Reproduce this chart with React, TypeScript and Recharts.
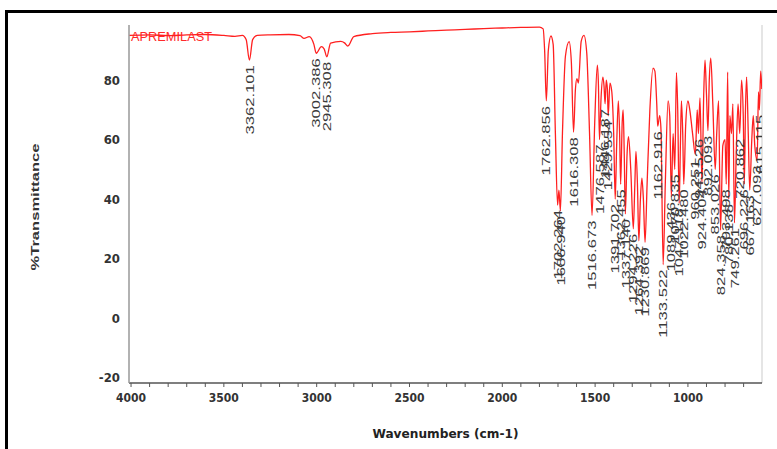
import { ComposedChart, Line, Scatter, XAxis, YAxis, ReferenceLine } from "recharts";

// IR spectrum
const wavenumbers = [
  4010, 3900, 3800, 3700, 3600, 3500, 3440, 3400, 3380, 3362.101, 3345, 3320, 3250, 3150, 3090, 3068, 3040, 3015,
  3002.386, 2975, 2960, 2945.308, 2925, 2870, 2850, 2832, 2800, 2700, 2600, 2500, 2400, 2300, 2200, 2100, 2000,
  1900, 1800, 1780, 1772, 1762.856, 1752, 1738, 1726, 1714, 1702.264, 1695, 1686.94, 1676, 1660, 1640, 1628,
  1616.308, 1606, 1598, 1590, 1575, 1560, 1545, 1530, 1516.673, 1502, 1488, 1482, 1476.587, 1468, 1458, 1452,
  1446.187, 1440, 1434, 1429.554, 1420, 1410, 1400, 1391.702, 1384, 1375, 1368, 1362.455, 1354, 1349, 1343,
  1337.14, 1328, 1320, 1308, 1294.226, 1286, 1280, 1272, 1264.392, 1256, 1248, 1240, 1230.869, 1220, 1205, 1188,
  1178, 1168, 1162.916, 1152, 1145, 1133.522, 1122, 1107, 1098, 1089.436, 1080, 1070.835, 1062, 1055, 1047.118,
  1040, 1035, 1028, 1022.48, 1012, 1000, 990, 975, 960.251, 950, 943.526, 935, 924.404, 915, 908, 900, 892.093,
  885, 877, 866, 853.026, 845, 835, 824.358, 812, 800, 793.498, 786, 780.138, 774, 765, 758, 749.261, 740, 730,
  720.862, 711, 702, 696.226, 690, 684, 675, 667.163, 656, 648, 640, 627.093, 620, 615.115, 608, 602,
];

const transmittance = [
  95.0, 95.2, 94.9, 95.2, 95.3, 95.0, 94.7, 95.0, 93.6, 86.7, 93.6, 95.0, 95.2, 95.3, 94.9, 94.0, 94.6, 92.0,
  89.0, 91.2, 90.5, 87.8, 92.4, 93.0, 92.5, 91.4, 94.6, 95.6, 96.0, 96.2, 96.5, 96.8, 97.0, 97.3, 97.5,
  97.7, 97.8, 97.2, 90, 73, 90, 94.8, 92, 62, 38, 43, 36, 62, 88, 92.9, 86,
  62.5, 77, 80.5, 79, 93, 95, 89, 62, 34.5, 66, 85, 78, 60, 74, 81, 78,
  72, 80, 77, 68, 79, 76, 62, 40, 58, 73, 62, 45, 66, 70, 55,
  35, 55, 61, 50, 30, 45, 56, 45, 26, 40, 47, 40, 25.5, 45, 70, 84,
  83, 72, 64.5, 68, 63, 18, 45, 73, 68, 40.7, 62, 50, 82.5, 70, 38.6,
  60, 73, 62, 45, 65, 73, 70, 62, 55, 70, 62, 74, 45, 75, 86.7, 75, 63,
  80, 87.4, 72, 50, 62, 73, 29.6, 58, 60, 45, 82.7, 40, 68, 62, 72, 32, 55, 72,
  62, 80, 68, 45, 70, 81, 62, 43, 60, 68, 58, 53, 76, 70, 83, 77,
];

const peakLabels = [
  "3362.101", "3002.386", "2945.308", "1762.856", "1702.264", "1686.940", "1616.308", "1516.673", "1476.587",
  "1446.187", "1429.554", "1391.702", "1362.455", "1337.140", "1294.226", "1264.392", "1230.869", "1162.916",
  "1133.522", "1089.436", "1070.835", "1047.118", "1022.480", "960.251", "943.526", "924.404", "892.093",
  "853.026", "824.358", "793.498", "780.138", "749.261", "720.862", "696.226", "667.163", "627.093", "615.115",
];

const xTicks = [4000, 3900, 3800, 3700, 3600, 3500, 3400, 3300, 3200, 3100, 3000, 2900, 2800, 2700, 2600, 2500,
  2400, 2300, 2200, 2100, 2000, 1900, 1800, 1700, 1600, 1500, 1400, 1300, 1200, 1100, 1000, 900, 800, 700];
const yTicks = [-20, 0, 20, 40, 60, 80];

const spectrum = wavenumbers.map((wn, i) => ({ wn, t: transmittance[i] }));
const peaks = peakLabels.map((text) => {
  const wn = parseFloat(text);
  const i = wavenumbers.indexOf(wn);
  return { wn, t: transmittance[i], text };
});

const tickFont = "'DejaVu Sans Condensed', 'Liberation Sans Narrow', sans-serif";

const XTick = ({ x, y, payload }: any) =>
  payload.value % 500 === 0 ? (
    <text x={x} y={y} dy={10} textAnchor="middle" fontFamily={tickFont} fontWeight="bold" fontSize={12} fill="#333">
      {payload.value}
    </text>
  ) : (
    <g />
  );

const YTick = ({ x, y, payload }: any) => (
  <text x={x} y={y} dy="0.36em" textAnchor="end" fontFamily={tickFont} fontWeight="bold" fontSize={13} fill="#333">
    {payload.value}
  </text>
);

const PeakLabel = ({ cx, cy, payload }: any) => (
  <g transform={`translate(${cx},${cy + 5}) rotate(-90) scale(1.45,1)`}>
    <text x={0} y={0} dy="0.36em" textAnchor="end" fontFamily="'Liberation Sans', Arial, sans-serif" fontSize={11.5} fill="#3a3a3a">
      {payload.text}
    </text>
  </g>
);

export default function App() {
  return (
    <div style={{ position: "absolute", left: 0, top: 0, width: 777, height: 449, overflow: "hidden", background: "#fff" }}>
      <div style={{ position: "absolute", left: 5, top: 10, width: 900, height: 600, borderTop: "3px solid #000", borderLeft: "3px solid #000" }} />
      <div style={{ position: "absolute", left: 131, top: 29, color: "#ff2a2a", fontFamily: "'Liberation Sans', Arial, sans-serif", fontSize: 12.8 }}>
        APREMILAST
      </div>
      <ComposedChart width={777} height={449} margin={{ top: 25, right: 15, bottom: 6, left: 0 }} style={{ position: "absolute", left: 0, top: 0 }}>
        <XAxis
          type="number"
          dataKey="wn"
          domain={[601, 4011]}
          reversed
          allowDataOverflow
          ticks={xTicks}
          interval={0}
          tick={<XTick />}
          tickSize={4}
          tickMargin={5}
          height={60}
          axisLine={{ stroke: "#555", strokeWidth: 1.5 }}
          tickLine={{ stroke: "#555" }}
          label={{
            content: ({ viewBox }: any) => (
              <text x={viewBox.x + viewBox.width / 2} y={viewBox.y + 55} textAnchor="middle" fontFamily={tickFont} fontWeight="bold" fontSize={13} fill="#222" textLength={146} lengthAdjust="spacingAndGlyphs">
                Wavenumbers (cm-1)
              </text>
            ),
          }}
        />
        <YAxis
          type="number"
          domain={[-21.8, 98.5]}
          allowDataOverflow
          ticks={yTicks}
          width={129}
          tick={<YTick />}
          tickLine={false}
          tickMargin={3}
          axisLine={{ stroke: "#999", strokeWidth: 1.5 }}
          label={{
            content: ({ viewBox }: any) => (
              <text transform={`translate(39, ${viewBox.y + 182}) rotate(-90)`} textAnchor="middle" fontFamily="'Liberation Sans', Arial, sans-serif" fontWeight="bold" fontSize={11.5} fill="#333" textLength={127} lengthAdjust="spacingAndGlyphs">
                %Transmittance
              </text>
            ),
          }}
        />
        <ReferenceLine x={601} stroke="#ddd" strokeWidth={1.5} />
        <Line data={spectrum} dataKey="t" type="monotone" stroke="#ff2020" strokeWidth={1.3} dot={false} isAnimationActive={false} />
        <Scatter data={peaks} dataKey="t" shape={<PeakLabel />} isAnimationActive={false} />
      </ComposedChart>
    </div>
  );
}
